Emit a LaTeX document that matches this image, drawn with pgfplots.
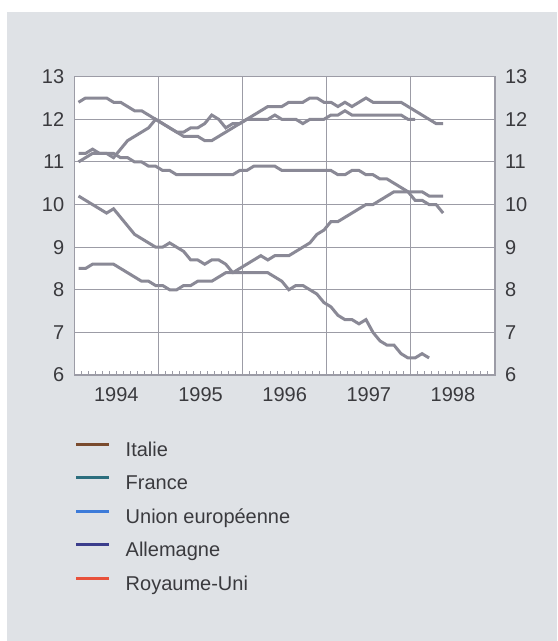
\documentclass[border=0pt]{standalone}
\usepackage{pgfplots}
\pgfplotsset{compat=1.18}
\usepackage{pgfplotstable}
\usepackage{fontspec}
\setmainfont{Liberation Sans}
\definecolor{panel}{HTML}{DFE2E6}
\definecolor{gridgray}{HTML}{9C9CA6}
\definecolor{plotgray}{HTML}{8A8996}
\definecolor{labelgray}{HTML}{3A3A3E}
\definecolor{cit}{HTML}{7A4B2E}
\definecolor{cfr}{HTML}{2C6E7E}
\definecolor{ceu}{HTML}{3D7BD9}
\definecolor{cde}{HTML}{3B3D8C}
\definecolor{cuk}{HTML}{E8513B}

\pgfplotstableread{
m fr it eu de uk
0 12.4 11.0 11.2 8.5 10.2
1 12.5 11.1 11.2 8.5 10.1
2 12.5 11.2 11.3 8.6 10.0
3 12.5 11.2 11.2 8.6 9.9
4 12.5 11.2 11.2 8.6 9.8
5 12.4 11.1 11.2 8.6 9.9
6 12.4 11.3 11.1 8.5 9.7
7 12.3 11.5 11.1 8.4 9.5
8 12.2 11.6 11.0 8.3 9.3
9 12.2 11.7 11.0 8.2 9.2
10 12.1 11.8 10.9 8.2 9.1
11 12.0 12.0 10.9 8.1 9.0
12 11.9 11.9 10.8 8.1 9.0
13 11.8 11.8 10.8 8.0 9.1
14 11.7 11.7 10.7 8.0 9.0
15 11.6 11.7 10.7 8.1 8.9
16 11.6 11.8 10.7 8.1 8.7
17 11.6 11.8 10.7 8.2 8.7
18 11.5 11.9 10.7 8.2 8.6
19 11.5 12.1 10.7 8.2 8.7
20 11.6 12.0 10.7 8.3 8.7
21 11.7 11.8 10.7 8.4 8.6
22 11.8 11.9 10.7 8.4 8.4
23 11.9 11.9 10.8 8.5 8.4
24 12.0 12.0 10.8 8.6 8.4
25 12.1 12.0 10.9 8.7 8.4
26 12.2 12.0 10.9 8.8 8.4
27 12.3 12.0 10.9 8.7 8.4
28 12.3 12.1 10.9 8.8 8.3
29 12.3 12.0 10.8 8.8 8.2
30 12.4 12.0 10.8 8.8 8.0
31 12.4 12.0 10.8 8.9 8.1
32 12.4 11.9 10.8 9.0 8.1
33 12.5 12.0 10.8 9.1 8.0
34 12.5 12.0 10.8 9.3 7.9
35 12.4 12.0 10.8 9.4 7.7
36 12.4 12.1 10.8 9.6 7.6
37 12.3 12.1 10.7 9.6 7.4
38 12.4 12.2 10.7 9.7 7.3
39 12.3 12.1 10.8 9.8 7.3
40 12.4 12.1 10.8 9.9 7.2
41 12.5 12.1 10.7 10.0 7.3
42 12.4 12.1 10.7 10.0 7.0
43 12.4 12.1 10.6 10.1 6.8
44 12.4 12.1 10.6 10.2 6.7
45 12.4 12.1 10.5 10.3 6.7
46 12.4 12.1 10.4 10.3 6.5
47 12.3 12.0 10.3 10.3 6.4
48 12.2 12.0 10.3 10.1 6.4
49 12.1 nan 10.3 10.1 6.5
50 12.0 nan 10.2 10.0 6.4
51 11.9 nan 10.2 10.0 nan
52 11.9 nan 10.2 9.8 nan
}\data

\begin{document}
\begin{tikzpicture}[x=1pt,y=1pt]
\path[use as bounding box] (0,0) rectangle (278.5,320.5);
\fill[panel] (3.5,0) rectangle (278.5,314.5);
\begin{axis}[
  at={(37.15pt,133pt)}, anchor=south west,
  width=210.35pt, height=149.15pt, scale only axis,
  xmin=0, xmax=60, ymin=6, ymax=13,
  axis background/.style={fill=white},
  axis line style={gridgray, line width=0.6pt},
  ytick={6,...,13},
  ymajorgrids,
  grid style={gridgray, line width=0.5pt},
  major tick length=0pt,
  xtick={6,18,30,42,54},
  xticklabels={1994,1995,1996,1997,1998},
  extra x ticks={12,24,36,48},
  extra x tick labels={},
  extra x tick style={xmajorgrids=true, major tick length=0pt},
  minor xtick={1,...,59},
  minor tick length=2.2pt,
  tick align=inside,
  xtick pos=lower, ytick pos=left,
  tick style={gridgray, line width=0.5pt},
  ticklabel style={font=\fontsize{10}{12}\selectfont, text=labelgray},
  yticklabel style={xshift=-1.5pt},
  xticklabel style={yshift=-2.5pt},
  /pgf/number format/assume math mode=true,
  legend style={at={(0,-0.22)}, anchor=north west, draw=none, fill=none,
    font=\fontsize{10}{12}\selectfont, text=labelgray, inner sep=0pt,
    row sep=6.75pt, column sep=7.5pt,
    nodes={inner sep=0pt, text height=7.5pt, text depth=2.5pt}},
  legend cell align=left,
  legend image code/.code={\draw[#1] (0pt,3.5pt) -- (16.5pt,3.5pt);},
]
\addplot[plotgray, line width=1.5pt, forget plot] table[x expr=\thisrow{m}+0.6, y=fr] {\data};
\addplot[plotgray, line width=1.5pt, forget plot] table[x expr=\thisrow{m}+0.6, y=it] {\data};
\addplot[plotgray, line width=1.5pt, forget plot] table[x expr=\thisrow{m}+0.6, y=eu] {\data};
\addplot[plotgray, line width=1.5pt, forget plot] table[x expr=\thisrow{m}+0.6, y=de] {\data};
\addplot[plotgray, line width=1.5pt, forget plot] table[x expr=\thisrow{m}+0.6, y=uk] {\data};
\addlegendimage{cit, line width=1.5pt}
\addlegendentry{Italie}
\addlegendimage{cfr, line width=1.5pt}
\addlegendentry{France}
\addlegendimage{ceu, line width=1.5pt}
\addlegendentry{Union européenne}
\addlegendimage{cde, line width=1.5pt}
\addlegendentry{Allemagne}
\addlegendimage{cuk, line width=1.5pt}
\addlegendentry{Royaume-Uni}
\end{axis}
\begin{axis}[
  at={(37.15pt,133pt)}, anchor=south west,
  width=210.35pt, height=149.15pt, scale only axis,
  xmin=0, xmax=60, ymin=6, ymax=13,
  axis line style={draw=none},
  xtick=\empty, ytick={6,...,13},
  yticklabel pos=right,
  major tick length=0pt,
  ticklabel style={font=\fontsize{10}{12}\selectfont, text=labelgray},
  yticklabel style={xshift=1.5pt},
  /pgf/number format/assume math mode=true,
]
\end{axis}
\end{tikzpicture}
\end{document}
